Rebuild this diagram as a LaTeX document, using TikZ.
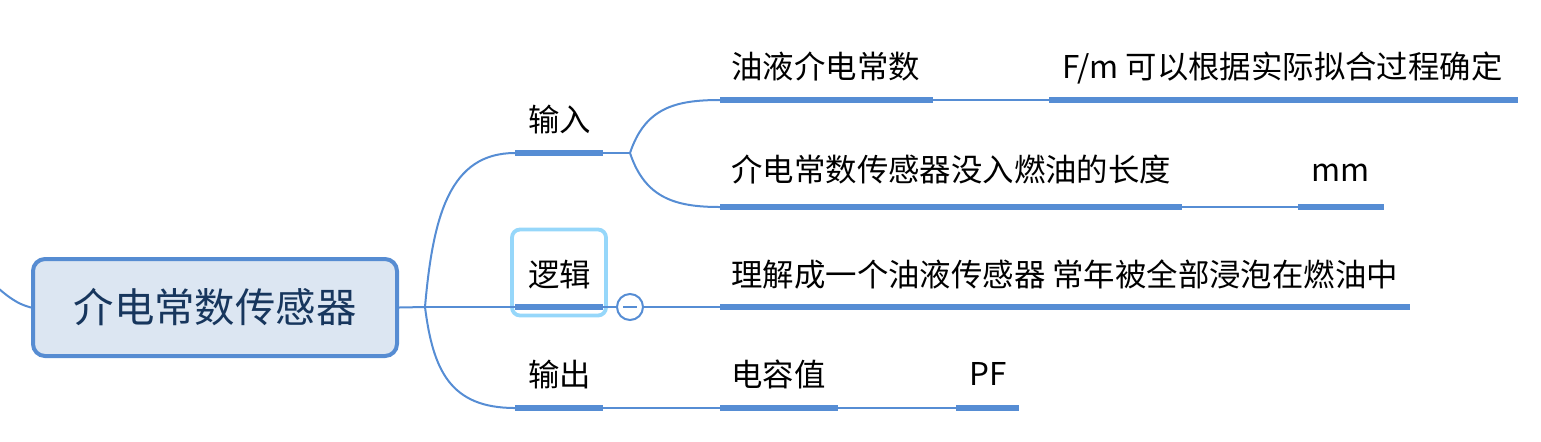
\documentclass[tikz,border=0pt]{standalone}
\usepackage{fontspec}
\newfontfamily\cjk{Noto Sans CJK SC}
\definecolor{ln}{RGB}{86,141,212}
\definecolor{cfill}{RGB}{220,230,242}
\definecolor{cborder}{RGB}{86,140,210}
\definecolor{ctext}{RGB}{23,54,93}
\definecolor{sel}{RGB}{150,215,250}
\begin{document}
\begin{tikzpicture}[x=0.5pt,y=-0.5pt,
  thinln/.style={draw=ln, line width=1pt},
  bar/.style={draw=ln, line width=2.8pt},
  lbl/.style={font=\cjk\fontsize{15.7}{18}\selectfont, anchor=base west, inner sep=0pt, text=black}]
\useasboundingbox (0,0) rectangle (1541,441);

% central node
\node[draw=cborder, line width=2pt, fill=cfill, rounded corners=6pt,
      minimum width=182pt, minimum height=48.5pt, inner sep=0pt,
      text=ctext, font=\cjk\fontsize{20.2}{24}\selectfont] (c) at (215,307.5) {介电常数传感器};
\coordinate (lc) at (-2,288);
\draw[thinln] (lc) .. controls (14,302) and (22,305) .. (c.west);

% coordinates
\coordinate (j1) at (425,307);
\coordinate (inA) at (515,153);  \coordinate (inB) at (603,153);
\coordinate (loA) at (515,307);  \coordinate (loB) at (603,307);
\coordinate (ouA) at (515,408);  \coordinate (ouB) at (603,408);
\coordinate (j2) at (630,153);
\coordinate (a1) at (720,100); \coordinate (a2) at (933,100);
\coordinate (a3) at (1049,100); \coordinate (a4) at (1518,100);
\coordinate (b1) at (720,207); \coordinate (b2) at (1182,207);
\coordinate (b3) at (1298,207); \coordinate (b4) at (1384,207);
\coordinate (l1) at (720,307); \coordinate (l2) at (1410,307);
\coordinate (o1) at (720,408); \coordinate (o2) at (838,408);
\coordinate (o3) at (956,408); \coordinate (o4) at (1019,408);

% selection box
\node[draw=sel, line width=1.9pt, rounded corners=4pt, minimum width=47pt, minimum height=43pt, inner sep=0pt] (selbox) at (559,272.5) {};

% connectors
\draw[thinln] (c.east) -- (j1);
\draw[thinln] (j1) .. controls (433,215) and (450,153) .. (inA);
\draw[thinln] (j1) -- (loA);
\draw[thinln] (j1) .. controls (433,370) and (450,408) .. (ouA);
\draw[thinln] (inB) -- (j2);
\draw[thinln] (j2) .. controls (645,108) and (675,100) .. (a1);
\draw[thinln] (j2) .. controls (645,198) and (675,207) .. (b1);
\draw[thinln] (a2) -- (a3);
\draw[thinln] (b2) -- (b3);
\draw[thinln] (loB) -- (l1);
\draw[thinln] (ouB) -- (o1);
\draw[thinln] (o2) -- (o3);

% bars
\draw[bar] (inA) -- (inB);
\draw[bar] (loA) -- (loB);
\draw[bar] (ouA) -- (ouB);
\draw[bar] (a1) -- (a2);
\draw[bar] (a3) -- (a4);
\draw[bar] (b1) -- (b2);
\draw[bar] (b3) -- (b4);
\draw[bar] (l1) -- (l2);
\draw[bar] (o1) -- (o2);
\draw[bar] (o3) -- (o4);

% collapse button
\node[circle, draw=ln, line width=1pt, fill=white, minimum size=13pt, inner sep=0pt] (col) at (630,307) {};
\draw[thinln] ([xshift=-3.5pt]col.center) -- ([xshift=3.5pt]col.center);

% labels
\node[lbl] (t1) at (528,131) {输入};
\node[lbl] (t2) at (528,286) {逻辑};
\node[lbl] (t3) at (528,386) {输出};
\node[lbl] (t4) at (731,78) {油液介电常数};
\node[lbl] (t5) at (1062,78) {F/m 可以根据实际拟合过程确定};
\node[lbl] (t6) at (731,181) {介电常数传感器没入燃油的长度};
\node[lbl] (t7) at (1311,181) {mm};
\node[lbl] (t8) at (731,286) {理解成一个油液传感器 常年被全部浸泡在燃油中};
\node[lbl] (t9) at (731,386) {电容值};
\node[lbl] (t10) at (969,385) {PF};
\end{tikzpicture}
\end{document}
